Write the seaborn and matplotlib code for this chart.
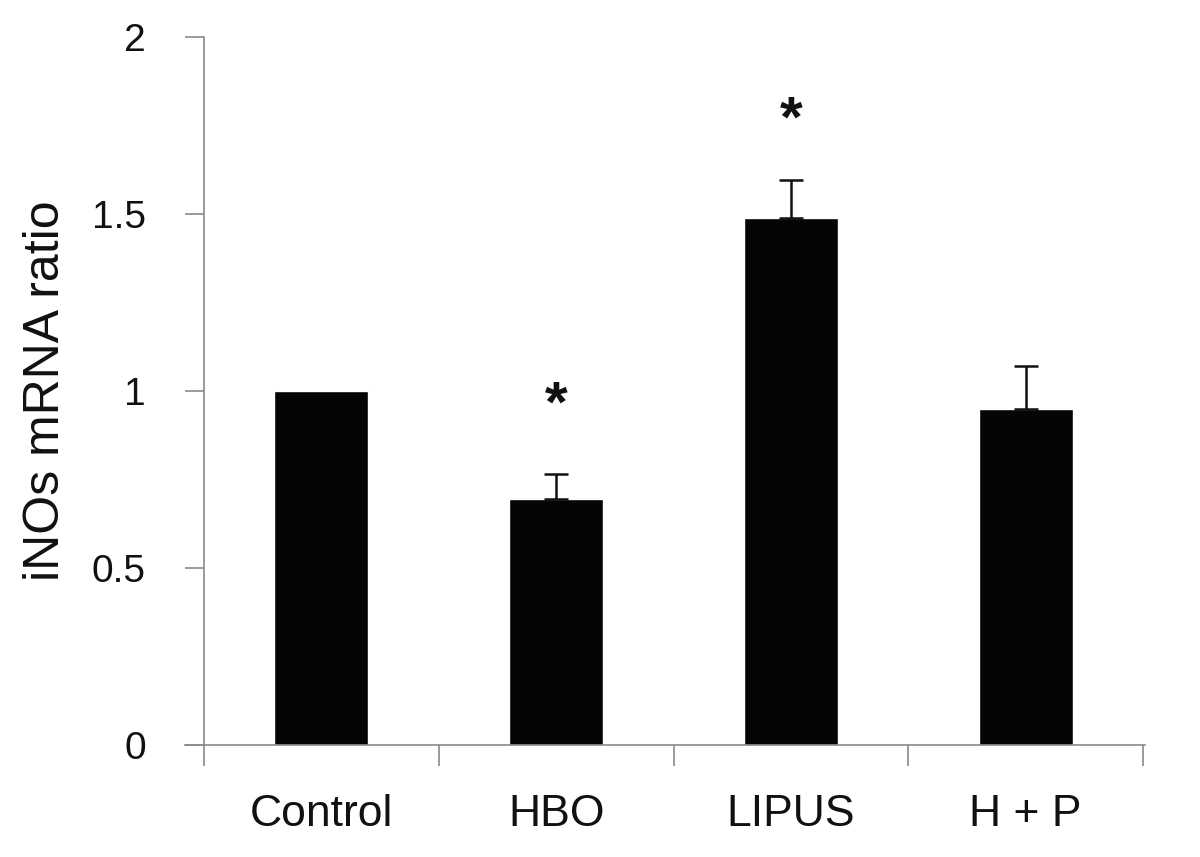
import matplotlib
matplotlib.use('Agg')
import matplotlib.pyplot as plt
import pandas as pd
import seaborn as sns

# values
groups = ['Control', 'HBO', 'LIPUS', 'H + P']
ratio = [1.0, 0.695, 1.49, 0.95]
err = [0.0, 0.07, 0.105, 0.12]
stars = ['', '*', '*', '']
star_y = [0, 0.955, 1.76, 0]

df = pd.DataFrame({'group': groups, 'ratio': ratio})

sns.set_style('white')
plt.rcParams['font.family'] = ['Liberation Sans', 'DejaVu Sans']

fig = plt.figure(figsize=(12, 8.57), dpi=100)
ax = fig.add_axes([0.17, 0.1307, 0.7825, 0.8261])

sns.barplot(data=df, x='group', y='ratio', color='#050505', width=0.4,
            saturation=1, ax=ax)
for i, (v, e) in enumerate(zip(ratio, err)):
    if e > 0:
        ax.errorbar(i, v, yerr=[[0], [e]], fmt='none', ecolor='#111111',
                    elinewidth=1.8, capsize=8.5, capthick=1.8)
    if stars[i]:
        ax.text(i, star_y[i], stars[i], ha='center', va='center',
                fontsize=42, fontweight='bold', color='#111111')

ax.set_xlim(-0.5, 3.5)
ax.set_ylim(0, 2)
ax.set_yticks([0, 0.5, 1, 1.5, 2])
ax.set_yticklabels(['0', '0.5', '1', '1.5', '2'])
ax.set_xticks([-0.5, 0.5, 1.5, 2.5, 3.5], minor=True)
ax.tick_params(axis='x', which='major', length=0, pad=35, labelsize=32,
               labelcolor='#111111')
ax.tick_params(axis='x', which='minor', length=15, width=1.2, color='#8a8a8a',
               direction='out', bottom=True)
ax.tick_params(axis='y', length=14, width=1.2, color='#8a8a8a', direction='out',
               left=True, pad=28, labelsize=28, labelcolor='#111111')
ax.set_xlabel('')
ax.set_ylabel('iNOs mRNA ratio', fontsize=36, labelpad=16, color='#111111')

for s in ['top', 'right']:
    ax.spines[s].set_visible(False)
for s in ['left', 'bottom']:
    ax.spines[s].set_color('#8a8a8a')
    ax.spines[s].set_linewidth(1.2)
ax.spines['bottom'].set_bounds(-0.58, 3.51)

fig.savefig('out.png', dpi=100)
